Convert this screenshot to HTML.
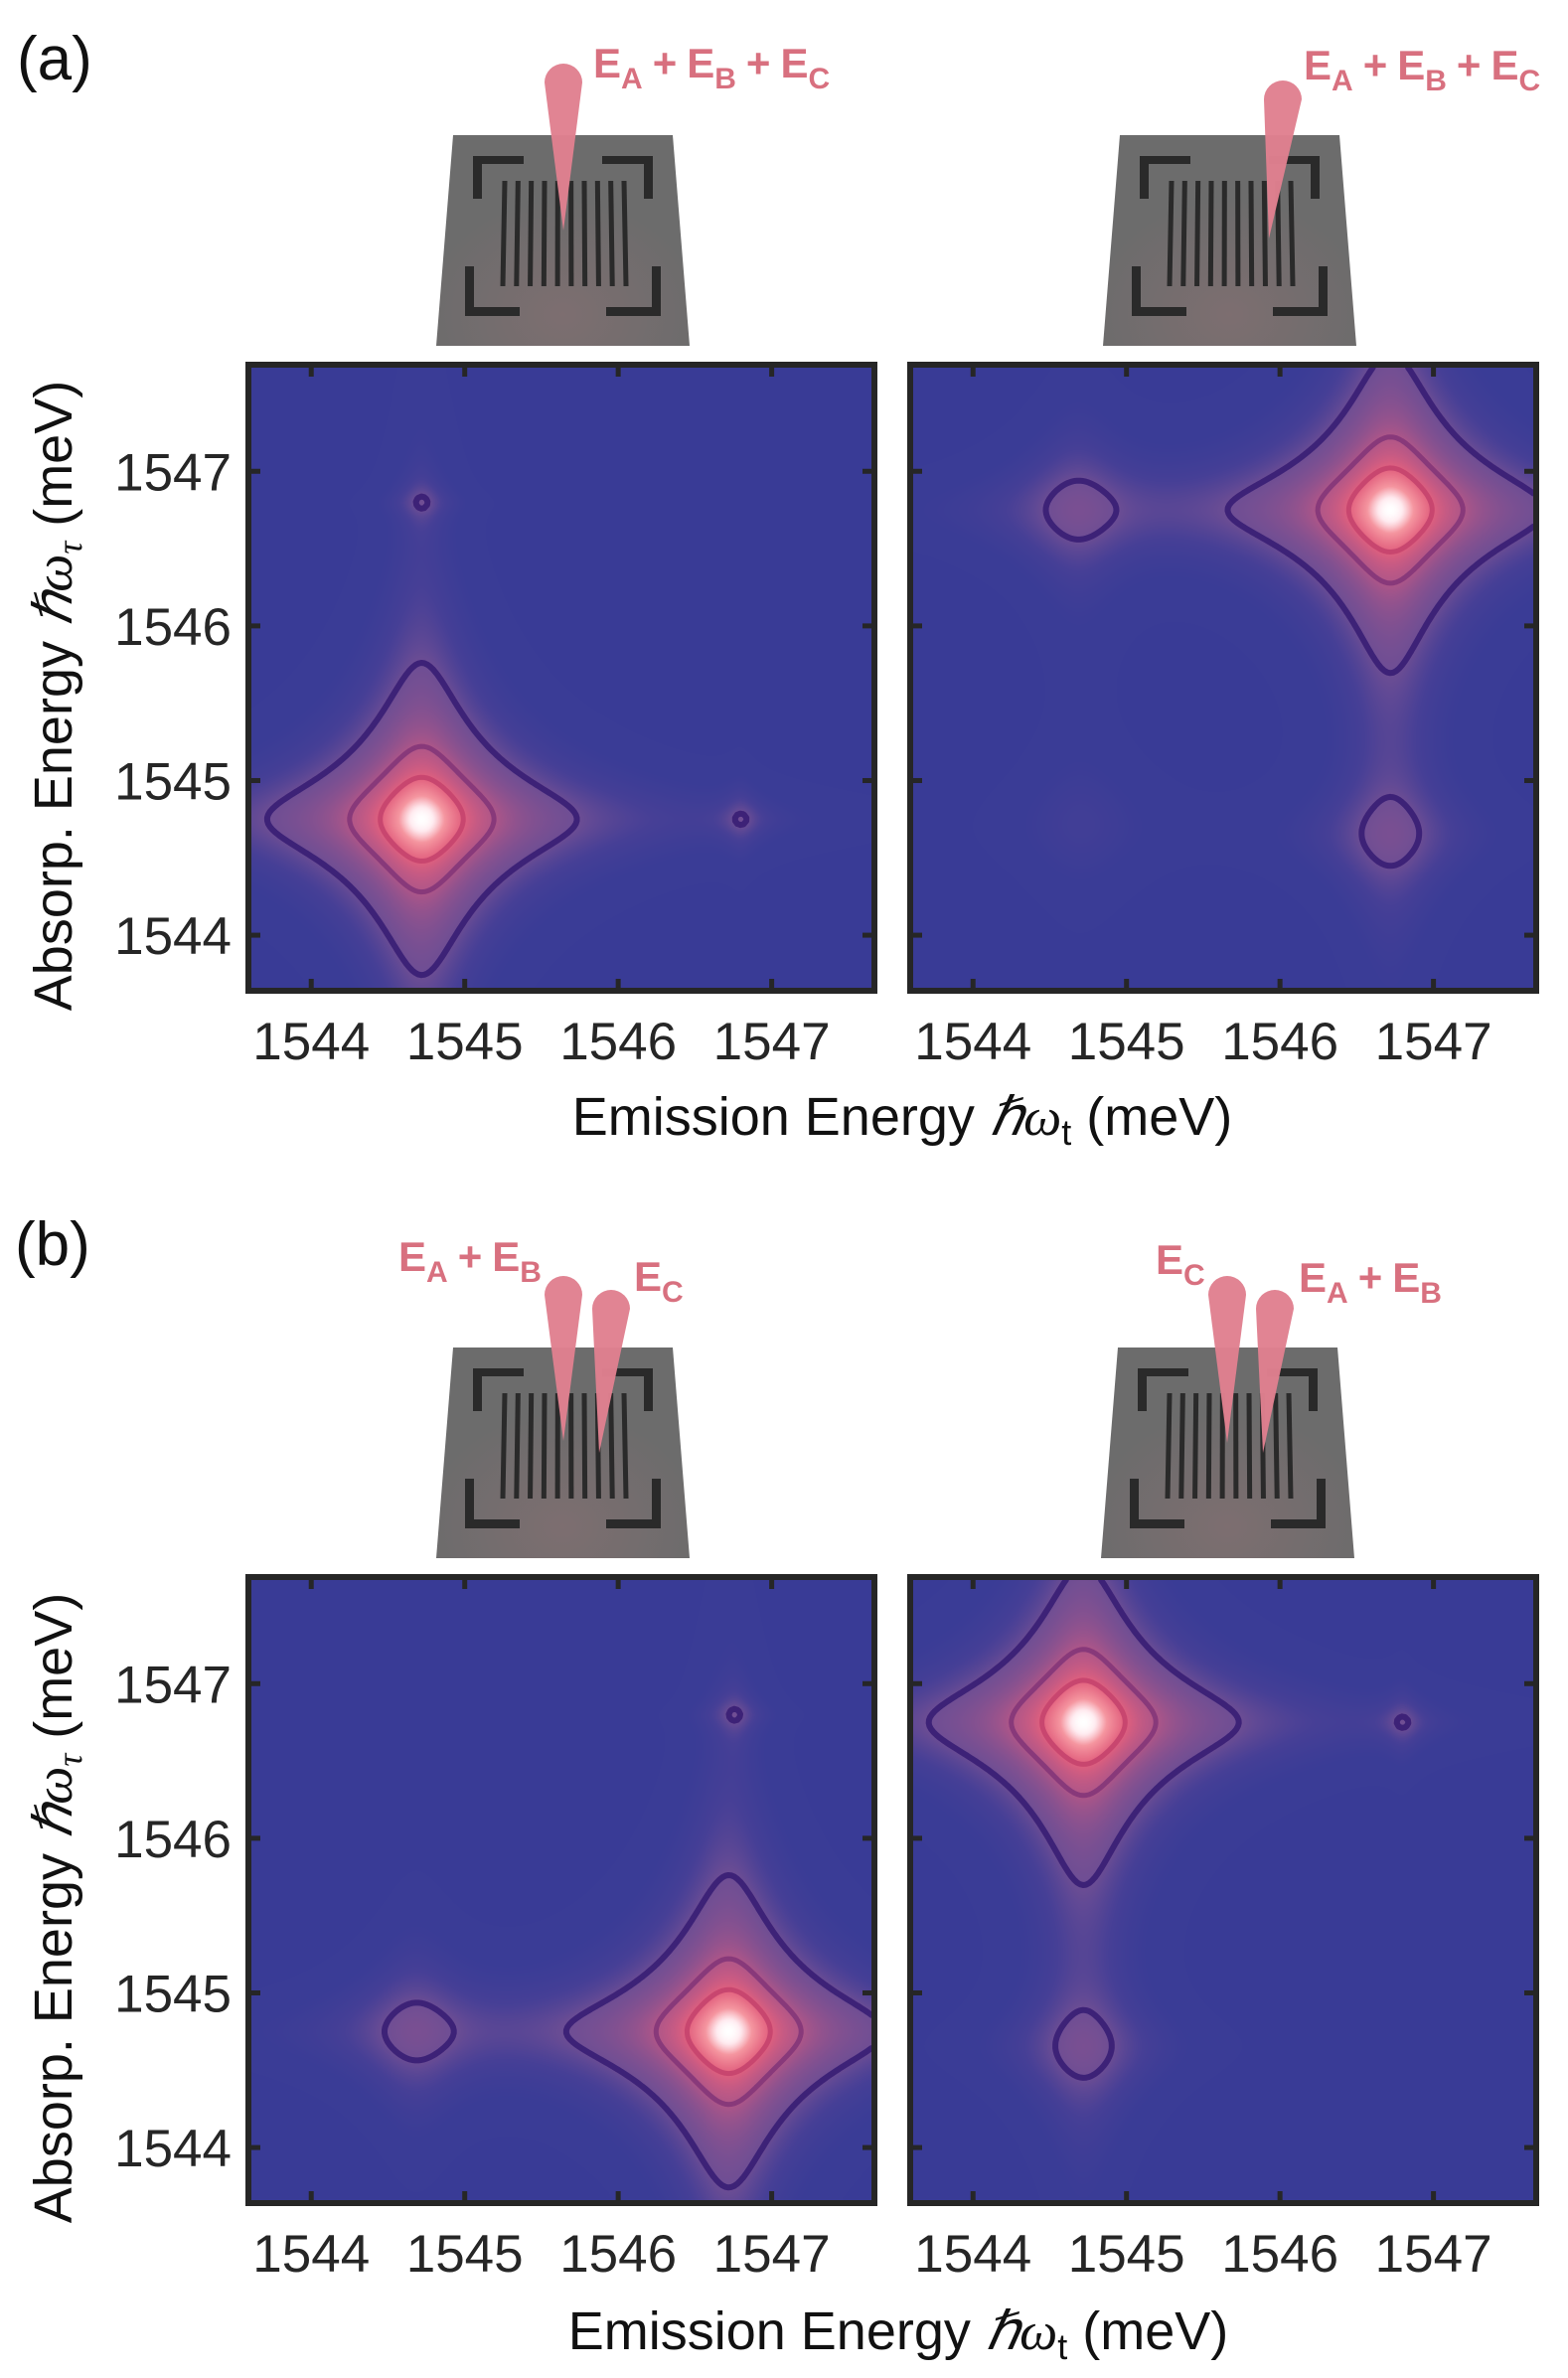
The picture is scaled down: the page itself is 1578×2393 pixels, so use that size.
<!DOCTYPE html>
<html><head><meta charset="utf-8"><style>
html,body{margin:0;padding:0;background:#fff;}
#root{position:relative;width:1578px;height:2393px;overflow:hidden;background:#fff;font-family:"Liberation Sans",sans-serif;}
canvas{position:absolute;}
#ov{position:absolute;left:0;top:0;}
</style></head><body>
<div id="root">
<canvas id="c0" width="624" height="624" style="left:253px;top:370px"></canvas>
<canvas id="c1" width="624" height="624" style="left:919px;top:370px"></canvas>
<canvas id="c2" width="624" height="624" style="left:253px;top:1590px"></canvas>
<canvas id="c3" width="624" height="624" style="left:919px;top:1590px"></canvas>
<svg id="ov" width="1578" height="2393" xmlns="http://www.w3.org/2000/svg">
<text x="17" y="80" font-size="62" fill="#111">(a)</text>
<text x="15" y="1273" font-size="62" fill="#111">(b)</text>
<g id="devs"></g>
<g id="plots"></g>
<text x="908" y="1142" font-size="54" fill="#111" text-anchor="middle">Emission Energy <tspan font-family="Liberation Serif" font-style="italic">ℏω</tspan><tspan font-size="36" dy="10">t</tspan><tspan dy="-10"> (meV)</tspan></text>
<text x="904" y="2364" font-size="54" fill="#111" text-anchor="middle">Emission Energy <tspan font-family="Liberation Serif" font-style="italic">ℏω</tspan><tspan font-size="36" dy="10">t</tspan><tspan dy="-10"> (meV)</tspan></text>
<text transform="translate(72,700) rotate(-90)" font-size="54" fill="#111" text-anchor="middle">Absorp. Energy <tspan font-family="Liberation Serif" font-style="italic">ℏω</tspan><tspan font-family="Liberation Serif" font-style="italic" font-size="36" dy="10">τ</tspan><tspan dy="-10"> (meV)</tspan></text>
<text transform="translate(72,1920) rotate(-90)" font-size="54" fill="#111" text-anchor="middle">Absorp. Energy <tspan font-family="Liberation Serif" font-style="italic">ℏω</tspan><tspan font-family="Liberation Serif" font-style="italic" font-size="36" dy="10">τ</tspan><tspan dy="-10"> (meV)</tspan></text>
</svg>
</div>
<script>
// ---- chart data ----
var xTicks = [1544, 1545, 1546, 1547];
var yTicks = [1544, 1545, 1546, 1547];
var xDomain = [1543.61, 1547.65];
var yDomain = [1543.66, 1547.67];
var contourLevels = [0.0625, 0.234, 0.48];
var contourColors = ['#3d2277', '#88397a', '#c8466f'];
var contourWidths = [6, 5, 5];
// peaks per panel: emission x, absorption y, amplitude, width
var peaksX_aL = [1544.72, 1544.72, 1546.80];
var peaksY_aL = [1544.75, 1546.80, 1544.75];
var peaksA_aL = [1.0, 0.054, 0.054];
var peaksW_aL = [0.26, 0.1, 0.1];
var peaksX_aR = [1546.72, 1544.68, 1546.72, 1544.70];
var peaksY_aR = [1546.75, 1546.75, 1544.65, 1544.72];
var peaksA_aR = [1.0, 0.075, 0.075, 0.02];
var peaksW_aR = [0.26, 0.28, 0.28, 0.4];
var peaksX_bL = [1546.72, 1544.68, 1546.76];
var peaksY_bL = [1544.75, 1544.75, 1546.80];
var peaksA_bL = [1.0, 0.075, 0.054];
var peaksW_bL = [0.26, 0.28, 0.1];
var peaksX_bR = [1544.72, 1544.72, 1546.80];
var peaksY_bR = [1546.75, 1544.65, 1546.75];
var peaksA_bR = [1.0, 0.075, 0.054];
var peaksW_bR = [0.26, 0.28, 0.1];

var NS = 'http://www.w3.org/2000/svg';
var SIZE = 624;
function xScale(v){ return (v - xDomain[0]) / (xDomain[1] - xDomain[0]) * SIZE; }
function yScale(v){ return (yDomain[1] - v) / (yDomain[1] - yDomain[0]) * SIZE; }
function xInv(p){ return xDomain[0] + p / SIZE * (xDomain[1] - xDomain[0]); }
function yInv(p){ return yDomain[1] - p / SIZE * (yDomain[1] - yDomain[0]); }

function field(px, py, pa, pw, x, y){
  var s = 0;
  for (var i = 0; i < px.length; i++){
    var u = (x - px[i]) / pw[i], v = (y - py[i]) / pw[i];
    s += pa[i] / ((1 + u*u) * (1 + v*v));
  }
  return s;
}
var stops = [[0,57,59,150],[0.012,58,60,150],[0.03,70,63,150],[0.0625,110,78,148],[0.234,176,86,136],[0.48,226,96,126],[0.75,245,150,160],[0.92,255,235,240],[1,255,255,255]];
function cmap(t){
  if (t < 0) t = 0; if (t > 1) t = 1;
  for (var i = 1; i < stops.length; i++){
    if (t <= stops[i][0]){
      var a = stops[i-1], b = stops[i], k = (t-a[0])/(b[0]-a[0]);
      return [a[1]+(b[1]-a[1])*k, a[2]+(b[2]-a[2])*k, a[3]+(b[3]-a[3])*k];
    }
  }
  return [255,255,255];
}

var panels = [
  {c:'c0', ox:253, oy:370, px:peaksX_aL, py:peaksY_aL, pa:peaksA_aL, pw:peaksW_aL, n:'a-left', yl:true},
  {c:'c1', ox:919, oy:370, px:peaksX_aR, py:peaksY_aR, pa:peaksA_aR, pw:peaksW_aR, n:'a-right', yl:false},
  {c:'c2', ox:253, oy:1590, px:peaksX_bL, py:peaksY_bL, pa:peaksA_bL, pw:peaksW_bL, n:'b-left', yl:true},
  {c:'c3', ox:919, oy:1590, px:peaksX_bR, py:peaksY_bR, pa:peaksA_bR, pw:peaksW_bR, n:'b-right', yl:false}
];
var plots = document.getElementById('plots');

panels.forEach(function(P){
  var ctx = document.getElementById(P.c).getContext('2d');
  var img = ctx.createImageData(SIZE, SIZE);
  for (var j = 0; j < SIZE; j++){
    var y = yInv(j + 0.5);
    for (var i = 0; i < SIZE; i++){
      var f = field(P.px, P.py, P.pa, P.pw, xInv(i + 0.5), y);
      var c = cmap(f), k = (j*SIZE + i)*4;
      img.data[k] = c[0]; img.data[k+1] = c[1]; img.data[k+2] = c[2]; img.data[k+3] = 255;
    }
  }
  ctx.putImageData(img, 0, 0);

  var g = document.createElementNS(NS, 'g');
  
  
  g.setAttribute('transform', 'translate(' + P.ox + ',' + P.oy + ')');
  plots.appendChild(g);

  var step = 3, N = Math.ceil(SIZE/step) + 1, grid = [];
  for (var j = 0; j < N; j++){
    grid.push([]);
    for (var i = 0; i < N; i++) grid[j].push(field(P.px, P.py, P.pa, P.pw, xInv(i*step), yInv(j*step)));
  }
  var clip = document.createElementNS(NS, 'clipPath');
  clip.setAttribute('id', 'clip-' + P.n);
  var cr = document.createElementNS(NS, 'rect');
  cr.setAttribute('width', SIZE); cr.setAttribute('height', SIZE);
  clip.appendChild(cr); g.appendChild(clip);
  contourLevels.forEach(function(L, li){
    var d = '';
    function ip(a, b){ return (L - a) / (b - a); }
    for (var j = 0; j < N-1; j++) for (var i = 0; i < N-1; i++){
      var a = grid[j][i], b = grid[j][i+1], c = grid[j+1][i+1], e = grid[j+1][i];
      var pts = [];
      if ((a-L)*(b-L) < 0) pts.push([(i+ip(a,b))*step, j*step]);
      if ((b-L)*(c-L) < 0) pts.push([(i+1)*step, (j+ip(b,c))*step]);
      if ((e-L)*(c-L) < 0) pts.push([(i+ip(e,c))*step, (j+1)*step]);
      if ((a-L)*(e-L) < 0) pts.push([i*step, (j+ip(a,e))*step]);
      if (pts.length >= 2) d += 'M' + pts[0][0].toFixed(1) + ' ' + pts[0][1].toFixed(1) + 'L' + pts[1][0].toFixed(1) + ' ' + pts[1][1].toFixed(1);
      if (pts.length == 4) d += 'M' + pts[2][0].toFixed(1) + ' ' + pts[2][1].toFixed(1) + 'L' + pts[3][0].toFixed(1) + ' ' + pts[3][1].toFixed(1);
    }
    var path = document.createElementNS(NS, 'path');
    
    
    path.setAttribute('d', d);
    path.setAttribute('fill', 'none');
    path.setAttribute('stroke', contourColors[li]);
    path.setAttribute('stroke-width', contourWidths[li]);
    path.setAttribute('stroke-linecap', 'round');
    path.setAttribute('clip-path', 'url(#clip-' + P.n + ')');
    g.appendChild(path);
  });

  var fr = document.createElementNS(NS, 'rect');
  
  
  fr.setAttribute('x', -3); fr.setAttribute('y', -3);
  fr.setAttribute('width', SIZE+6); fr.setAttribute('height', SIZE+6);
  fr.setAttribute('fill', 'none'); fr.setAttribute('stroke', '#262626'); fr.setAttribute('stroke-width', '6');
  g.appendChild(fr);

  xTicks.forEach(function(t){
    var x = xScale(t);
    [[0,9],[SIZE,SIZE-9]].forEach(function(yy){
      var tk = document.createElementNS(NS, 'line');
      
      
      tk.setAttribute('x1', x); tk.setAttribute('x2', x);
      tk.setAttribute('y1', yy[0]); tk.setAttribute('y2', yy[1]);
      tk.setAttribute('stroke', '#262626'); tk.setAttribute('stroke-width', '5');
      g.appendChild(tk);
    });
    var tl = document.createElementNS(NS, 'text');
    
    
    tl.setAttribute('x', x); tl.setAttribute('y', SIZE + 72);
    tl.setAttribute('text-anchor', 'middle'); tl.setAttribute('font-size', '53'); tl.setAttribute('fill', '#262626');
    tl.textContent = t;
    g.appendChild(tl);
  });
  yTicks.forEach(function(t){
    var y = yScale(t);
    [[0,9],[SIZE,SIZE-9]].forEach(function(xx){
      var tk = document.createElementNS(NS, 'line');
      
      
      tk.setAttribute('y1', y); tk.setAttribute('y2', y);
      tk.setAttribute('x1', xx[0]); tk.setAttribute('x2', xx[1]);
      tk.setAttribute('stroke', '#262626'); tk.setAttribute('stroke-width', '5');
      g.appendChild(tk);
    });
    if (P.yl){
      var tl = document.createElementNS(NS, 'text');
      
      
      tl.setAttribute('x', -20); tl.setAttribute('y', y + 19);
      tl.setAttribute('text-anchor', 'end'); tl.setAttribute('font-size', '53'); tl.setAttribute('fill', '#262626');
      tl.textContent = t;
      g.appendChild(tl);
    }
  });
});

// ---- device illustrations ----
var devs = document.getElementById('devs');
var defs = document.createElementNS(NS, 'defs');
defs.innerHTML = '<radialGradient id="glow" cx="0.5" cy="0.85" r="0.55"><stop offset="0" stop-color="#7d6e70"/><stop offset="1" stop-color="#6c6c6c"/></radialGradient>';
devs.appendChild(defs);
function mk(tag, attrs, parent){
  var e = document.createElementNS(NS, tag);
  for (var k in attrs) e.setAttribute(k, attrs[k]);
  parent.appendChild(e); return e;
}
function device(name, ox, oy, beams){
  var g = document.createElementNS(NS, 'g');
  
  
  devs.appendChild(g);
  var sub = mk('polygon', {points: ox+','+oy+' '+(ox+221)+','+oy+' '+(ox+238)+','+(oy+212)+' '+(ox-17)+','+(oy+212), fill:'url(#glow)'}, g);
  
  var br = [[22,21,49,8],[20,21,9,43],[150,21,49,8],[192,21,9,43],[12,132,9,50],[12,173,55,9],[200,132,9,50],[154,173,55,9]];
  br.forEach(function(b){
    var r = mk('rect', {x:ox+b[0], y:oy+b[1], width:b[2], height:b[3], fill:'#2a2a2a'}, g);
    
  });
  for (var i = 0; i < 10; i++){
    var x1 = ox + 52 + i*120/9, x2 = ox + 50 + i*124/9;
    var l = mk('line', {x1:x1, y1:oy+46, x2:x2, y2:oy+152, stroke:'#2a2a2a', 'stroke-width':5}, g);
    
  }
  beams.forEach(function(b){
    var cx=b[0], cy=b[1], r=19, tx=b[2], ty=b[3];
    var p = mk('path', {d:'M'+(cx-r)+' '+cy+' A'+r+' '+r+' 0 0 1 '+(cx+r)+' '+cy+' L'+tx+' '+ty+' Z', fill:'#e0808f', opacity:'0.97'}, g);
    
  });
}
device('device-a-left', 456, 136, [[567,83,567,232]]);
device('device-a-right', 1127, 136, [[1291,100,1277,240]]);
device('device-b-left', 456, 1356, [[567,1303,567,1450],[615,1317,603,1462]]);
device('device-b-right', 1125, 1356, [[1235,1303,1235,1452],[1283,1317,1271,1462]]);

function label(name, x, y, parts){
  var t = document.createElementNS(NS, 'text');
  
  
  t.setAttribute('x', x); t.setAttribute('y', y);
  t.setAttribute('font-size', '42'); t.setAttribute('font-weight', 'bold'); t.setAttribute('fill', '#d8707f');
  var h = '';
  parts.forEach(function(p, i){
    if (i > 0) h += '<tspan dx="10" dy="-11">+</tspan><tspan dx="10">E</tspan>';
    else h += '<tspan>E</tspan>';
    h += '<tspan font-size="30" dy="11">' + p + '</tspan>';
  });
  t.innerHTML = h;
  devs.appendChild(t);
}
label('beam-label-a-left', 597, 78, ['A','B','C']);
label('beam-label-a-right', 1312, 80, ['A','B','C']);
label('beam-label-b-left-ab', 401, 1279, ['A','B']);
label('beam-label-b-left-c', 638, 1299, ['C']);
label('beam-label-b-right-c', 1163, 1282, ['C']);
label('beam-label-b-right-ab', 1307, 1300, ['A','B']);
</script>
</body></html>
